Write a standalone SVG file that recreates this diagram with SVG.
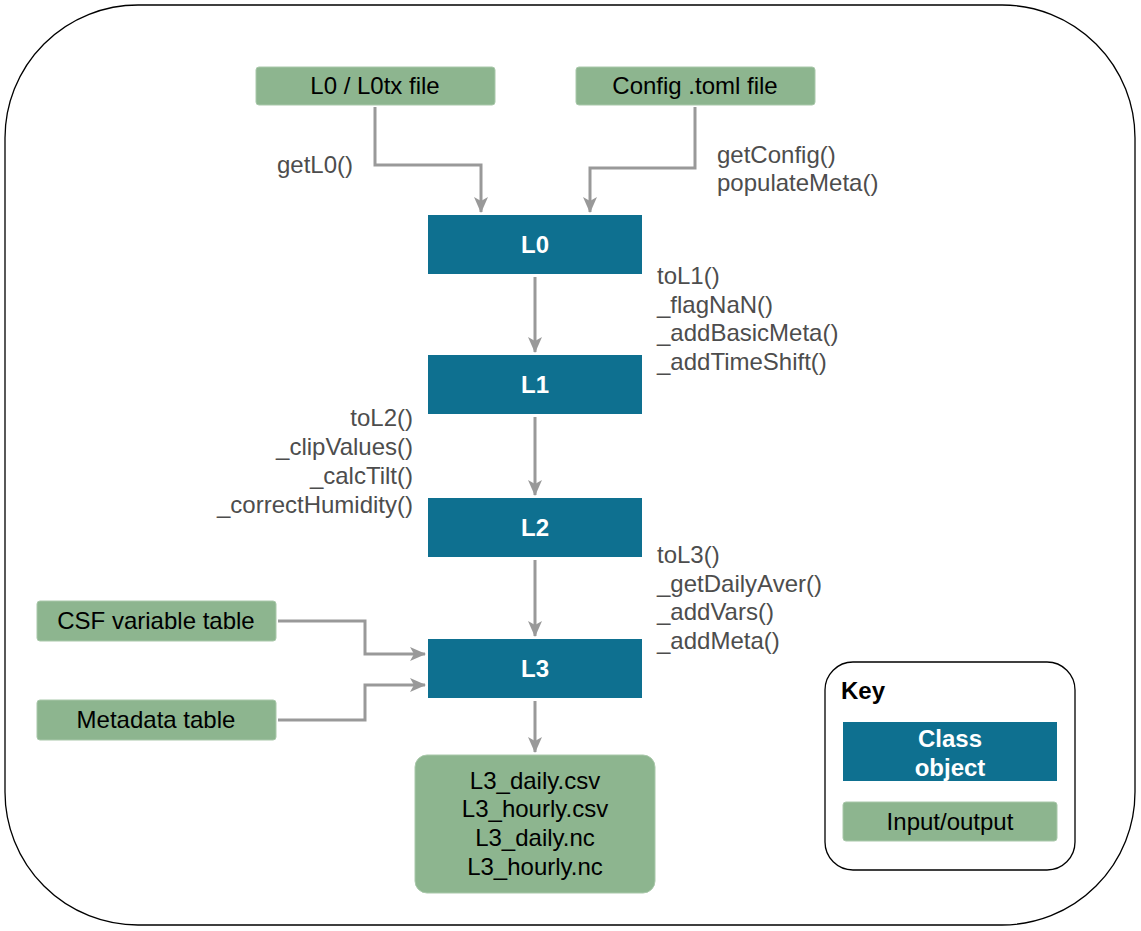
<svg xmlns="http://www.w3.org/2000/svg" width="1141" height="931" viewBox="0 0 1141 931">
<style>
.io{fill:#8db58f;stroke:#a9c8aa;stroke-width:1}
.cls{fill:#0e7090}
.t{font-family:"Liberation Sans",Arial,sans-serif;font-size:24px}
.dark{fill:#000}
.white{fill:#fff;font-weight:bold}
.lab{fill:#4d4d4d}
.conn{fill:none;stroke:#999;stroke-width:3}
</style>
<defs>
<marker id="ah" markerWidth="16" markerHeight="14" refX="15" refY="7" orient="auto" markerUnits="userSpaceOnUse">
<path d="M0,0 L16,7 L0,14 L4,7 Z" fill="#999"/>
</marker>
</defs>
<rect x="5" y="5" width="1130" height="920" rx="133" ry="133" fill="#fff" stroke="#000" stroke-width="1.3"/>
<g id="connectors">
<path class="conn" d="M375,107 V165 H481 V212" marker-end="url(#ah)"/>
<path class="conn" d="M695,107 V168 H590 V212" marker-end="url(#ah)"/>
<path class="conn" d="M535,277 V352" marker-end="url(#ah)"/>
<path class="conn" d="M535,417 V495" marker-end="url(#ah)"/>
<path class="conn" d="M535,560 V636" marker-end="url(#ah)"/>
<path class="conn" d="M278,621 H365 V654 H425" marker-end="url(#ah)"/>
<path class="conn" d="M278,720 H365 V685 H425" marker-end="url(#ah)"/>
<path class="conn" d="M535,701 V752" marker-end="url(#ah)"/>
</g>
<g id="l0file"><rect class="io" x="256" y="67" width="239" height="38" rx="3"/><text class="t dark" x="375" y="94" text-anchor="middle">L0 / L0tx file</text></g>
<g id="config"><rect class="io" x="576" y="67" width="239" height="38" rx="3"/><text class="t dark" x="695" y="94" text-anchor="middle">Config .toml file</text></g>
<g id="L0"><rect class="cls" x="428" y="215" width="214" height="59"/><text class="t white" x="535" y="253" text-anchor="middle">L0</text></g>
<g id="L1"><rect class="cls" x="428" y="355" width="214" height="59"/><text class="t white" x="535" y="393" text-anchor="middle">L1</text></g>
<g id="L2"><rect class="cls" x="428" y="498" width="214" height="59"/><text class="t white" x="535" y="536" text-anchor="middle">L2</text></g>
<g id="L3"><rect class="cls" x="428" y="639" width="214" height="59"/><text class="t white" x="535" y="677" text-anchor="middle">L3</text></g>
<g id="csf"><rect class="io" x="37" y="601" width="239" height="40" rx="3"/><text class="t dark" x="156" y="629" text-anchor="middle">CSF variable table</text></g>
<g id="meta"><rect class="io" x="37" y="700" width="239" height="40" rx="3"/><text class="t dark" x="156" y="728" text-anchor="middle">Metadata table</text></g>
<g id="output"><rect class="io" x="415" y="755" width="240" height="138" rx="12"/>
<text class="t dark" text-anchor="middle"><tspan x="535" y="789">L3_daily.csv</tspan><tspan x="535" y="817">L3_hourly.csv</tspan><tspan x="535" y="846">L3_daily.nc</tspan><tspan x="535" y="875">L3_hourly.nc</tspan></text></g>
<g id="labels">
<text class="t lab" x="277" y="173">getL0()</text>
<text class="t lab"><tspan x="717" y="163">getConfig()</tspan><tspan x="717" y="191">populateMeta()</tspan></text>
<text class="t lab"><tspan x="657" y="284">toL1()</tspan><tspan x="657" y="313">_flagNaN()</tspan><tspan x="657" y="341">_addBasicMeta()</tspan><tspan x="657" y="370">_addTimeShift()</tspan></text>
<text class="t lab" text-anchor="end"><tspan x="413" y="426">toL2()</tspan><tspan x="413" y="455">_clipValues()</tspan><tspan x="413" y="484">_calcTilt()</tspan><tspan x="413" y="513">_correctHumidity()</tspan></text>
<text class="t lab"><tspan x="657" y="563">toL3()</tspan><tspan x="657" y="592">_getDailyAver()</tspan><tspan x="657" y="620">_addVars()</tspan><tspan x="657" y="649">_addMeta()</tspan></text>
</g>
<g id="key">
<rect x="825" y="662" width="250" height="208" rx="28" fill="#fff" stroke="#000" stroke-width="1.3"/>
<text class="t dark" x="841" y="699" font-weight="bold">Key</text>
<rect class="cls" x="843" y="722" width="214" height="59"/>
<text class="t white" text-anchor="middle"><tspan x="950" y="747">Class</tspan><tspan x="950" y="776">object</tspan></text>
<rect class="io" x="843" y="802" width="214" height="39" rx="3"/>
<text class="t dark" x="950" y="830" text-anchor="middle">Input/output</text>
</g>
</svg>
